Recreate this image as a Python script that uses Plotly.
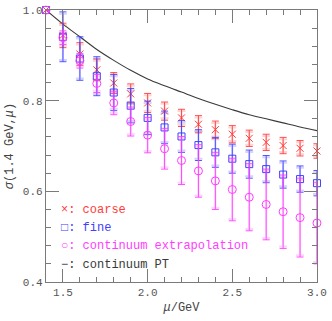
import plotly.graph_objects as go

mu = [1.4, 1.5, 1.6, 1.7, 1.8, 1.9, 2.0, 2.1, 2.2, 2.3, 2.4, 2.5, 2.6, 2.7, 2.8, 2.9, 3.0]

coarse = [1.0, 0.944, 0.903, 0.868, 0.839, 0.815, 0.795, 0.777, 0.762, 0.748, 0.736, 0.726, 0.717, 0.708, 0.701, 0.695, 0.689]
coarse_err = [0.0, 0.027, 0.025, 0.024, 0.023, 0.022, 0.021, 0.020, 0.019, 0.019, 0.019, 0.019, 0.018, 0.018, 0.018, 0.017, 0.016]

fine = [1.0, 0.941, 0.893, 0.854, 0.818, 0.789, 0.762, 0.741, 0.721, 0.702, 0.686, 0.672, 0.660, 0.649, 0.637, 0.627, 0.618]
fine_err = [0.0, 0.055, 0.048, 0.043, 0.040, 0.038, 0.037, 0.036, 0.035, 0.034, 0.033, 0.032, 0.031, 0.030, 0.030, 0.029, 0.028]

cont = [1.0, 0.939, 0.888, 0.838, 0.795, 0.754, 0.724, 0.694, 0.668, 0.645, 0.623, 0.604, 0.587, 0.571, 0.555, 0.542, 0.530]
cont_err = [0.0, 0.015, 0.016, 0.020, 0.026, 0.032, 0.039, 0.045, 0.053, 0.058, 0.063, 0.069, 0.074, 0.078, 0.081, 0.087, 0.090]

pt = [1.0, 0.969, 0.941, 0.913, 0.889, 0.867, 0.848, 0.833, 0.819, 0.805, 0.792, 0.780, 0.769, 0.760, 0.751, 0.742, 0.734]

x_ticks = [1.5, 2.0, 2.5, 3.0]
x_ticklabels = ["1.5", "2.0", "2.5", "3.0"]
y_ticks = [0.4, 0.6, 0.8, 1.0]
y_ticklabels = ["0.4", "0.6", "0.8", "1.0"]

RED = "#ff3b3b"
BLUE = "#4040ff"
MAG = "#ff3cff"
BLK = "#3a3a3a"
GRAY = "#7a7a7a"
FONT = "Liberation Mono"

fig = go.Figure()

fig.add_trace(go.Scatter(x=mu, y=pt, mode="lines", line=dict(color=BLK, width=1.1, shape="spline"),
                         showlegend=False, hoverinfo="skip"))

def add_series(y, err, color, symbol, size):
    ghost = [max(e - 0.004, 0) for e in err]
    fig.add_trace(go.Scatter(x=mu, y=y, mode="markers", cliponaxis=False,
                             marker=dict(size=0.1, color="rgba(0,0,0,0)"),
                             error_y=dict(type="data", array=ghost, color=color, thickness=2, width=4),
                             opacity=0.22, showlegend=False, hoverinfo="skip"))
    fig.add_trace(go.Scatter(x=mu, y=y, mode="markers", cliponaxis=False,
                             marker=dict(symbol=symbol, size=size, color=color, line=dict(color=color, width=1)),
                             error_y=dict(type="data", array=err, color=color, thickness=0.9, width=3.5),
                             showlegend=False))

add_series(coarse, coarse_err, RED, "x-thin-open", 7)
add_series(fine, fine_err, BLUE, "square-open", 7)
add_series(cont, cont_err, MAG, "circle-open", 8)

PLOT_L, PLOT_R, PLOT_T, PLOT_B = 45.5, 322.7, 5, 282.5

legend_items = [("×: coarse", RED), ("□: fine", BLUE), ("○: continuum extrapolation", MAG), ("−: continuum PT", BLK)]
ys = [209.3, 227.7, 246.2, 265.0]
for (txt, col), ypx in zip(legend_items, ys):
    fig.add_annotation(x=(59 - PLOT_L) / (PLOT_R - PLOT_L), y=1 - (ypx - PLOT_T) / (PLOT_B - PLOT_T),
                       xref="paper", yref="paper", text=txt, showarrow=False,
                       xanchor="left", yanchor="middle",
                       font=dict(family=FONT, size=12, color=col))

axis_common = dict(showline=True, linecolor=GRAY, linewidth=1.3, mirror="ticks",
                   ticks="inside", ticklen=13, tickcolor=GRAY, tickwidth=1.2,
                   showgrid=False, zeroline=False, ticklabeloverflow="allow",
                   tickfont=dict(family=FONT, size=11, color="#555555"))

fig.update_xaxes(range=[1.3999, 3.0001], tickvals=x_ticks, ticktext=x_ticklabels,
                 minor=dict(ticks="inside", ticklen=5, tickcolor=GRAY, dtick=0.1, tick0=1.4, tickwidth=1),
                 title=dict(text="<i>μ</i>/GeV", font=dict(family=FONT, size=12, color="#444444"), standoff=4),
                 **axis_common)
fig.update_yaxes(range=[0.3999, 1.0001], tickvals=y_ticks, ticktext=y_ticklabels,
                 minor=dict(ticks="inside", ticklen=5, tickcolor=GRAY, dtick=0.04, tick0=0.4, tickwidth=1),
                 title=dict(text="<i>σ</i>(1.4 GeV,<i>μ</i>)", font=dict(family=FONT, size=12, color="#444444"), standoff=6),
                 **axis_common)

fig.update_layout(width=332, height=321,
                  margin=dict(l=PLOT_L, r=332 - PLOT_R, t=PLOT_T, b=321 - PLOT_B),
                  plot_bgcolor="white", paper_bgcolor="white", showlegend=False)

fig.write_html("out.html", config={"displayModeBar": False},
               post_script="document.body.style.margin='0';document.body.style.overflow='hidden';")
